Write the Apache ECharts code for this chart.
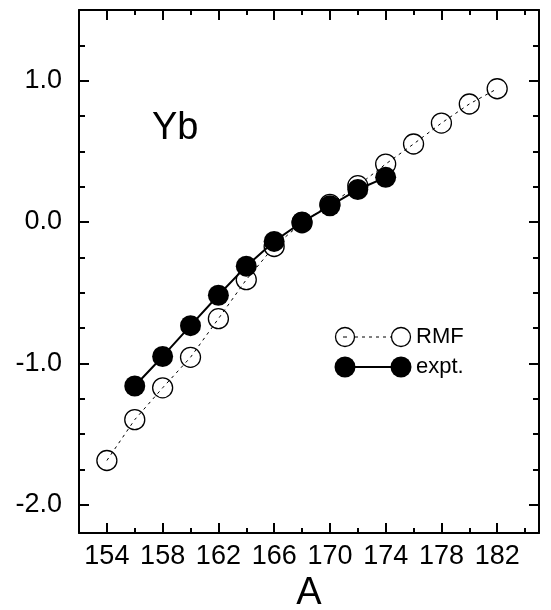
<!DOCTYPE html>
<html>
<head>
<meta charset="utf-8">
<script src="https://cdn.jsdelivr.net/npm/echarts@6/dist/echarts.min.js"></script>
<style>
  html, body { margin: 0; padding: 0; background: #fff; }
  #chart { width: 551px; height: 610px; }
</style>
</head>
<body>
<div id="chart"></div>
<script>
// Mass numbers and values for the two Yb chains
const rmfMass = [154, 156, 158, 160, 162, 164, 166, 168, 170, 172, 174, 176, 178, 180, 182];
const rmfValues = [-1.687, -1.398, -1.173, -0.957, -0.684, -0.408, -0.173, -0.005, 0.125, 0.257, 0.410, 0.552, 0.700, 0.835, 0.943];
const exptMass = [156, 158, 160, 162, 164, 166, 168, 170, 172, 174];
const exptValues = [-1.160, -0.951, -0.733, -0.518, -0.312, -0.137, 0.0, 0.115, 0.230, 0.316];

// Axis ticks and labels
const xLabelTicks = [154, 158, 162, 166, 170, 174, 178, 182];
const xMinorTicks = [156, 160, 164, 168, 172, 176, 180, 184];
const yLabelTicks = [-2, -1, 0, 1];
const yMinorTicks = [-1.75, -1.5, -1.25, -0.75, -0.5, -0.25, 0.25, 0.5, 0.75, 1.25];

const FONT = 'Liberation Sans, Arial, sans-serif';
const X_MIN = 152, X_MAX = 185, Y_MIN = -2.2, Y_MAX = 1.5;
const PLOT = { left: 79, top: 10, right: 12, bottom: 77, containLabel: false, outerBoundsMode: 'none' };

function toPairs(xs, ys) { return xs.map((x, i) => [x, ys[i]]); }

// Grid 0 holds the frame, the labels and the data; grids 1 and 2 share its box
// and only draw the long and the short inward ticks.
function frameX(position, withLabels) {
  return {
    type: 'value', gridIndex: 0, position: position, min: X_MIN, max: X_MAX,
    axisLine: { show: true, onZero: false, lineStyle: { color: '#000', width: 2 } },
    axisTick: { show: false },
    axisLabel: withLabels ? {
      show: true, customValues: xLabelTicks, margin: 10,
      color: '#000', fontSize: 27, fontFamily: FONT
    } : { show: false },
    splitLine: { show: false },
    name: withLabels ? 'A' : '',
    nameLocation: 'middle', nameGap: 36,
    nameTextStyle: { color: '#000', fontSize: 38, fontFamily: FONT }
  };
}

function frameY(position, withLabels) {
  return {
    type: 'value', gridIndex: 0, position: position, min: Y_MIN, max: Y_MAX,
    axisLine: { show: true, onZero: false, lineStyle: { color: '#000', width: 2 } },
    axisTick: { show: false },
    axisLabel: withLabels ? {
      show: true, customValues: yLabelTicks, margin: 17,
      color: '#000', fontSize: 27, fontFamily: FONT,
      formatter: v => v.toFixed(1)
    } : { show: false },
    splitLine: { show: false }
  };
}

function tickX(gridIndex, position, ticks, len) {
  return {
    type: 'value', gridIndex: gridIndex, position: position, min: X_MIN, max: X_MAX,
    axisLine: { show: false, onZero: false },
    axisTick: { show: true, inside: true, length: len, customValues: ticks,
                lineStyle: { color: '#000', width: 2 } },
    axisLabel: { show: false },
    splitLine: { show: false }
  };
}

function tickY(gridIndex, position, ticks, len) {
  return {
    type: 'value', gridIndex: gridIndex, position: position, min: Y_MIN, max: Y_MAX,
    axisLine: { show: false, onZero: false },
    axisTick: { show: true, inside: true, length: len, customValues: ticks,
                lineStyle: { color: '#000', width: 2 } },
    axisLabel: { show: false },
    splitLine: { show: false }
  };
}

const chart = echarts.init(document.getElementById('chart'), null, { renderer: 'canvas' });

// Legend drawn as a small key: two markers joined by the series line
const legendX1 = 345, legendX2 = 401, legendTextX = 416;
const rmfRowY = 337, exptRowY = 367;

chart.setOption({
  animation: false,
  backgroundColor: '#fff',
  grid: [Object.assign({}, PLOT), Object.assign({}, PLOT), Object.assign({}, PLOT)],
  xAxis: [
    frameX('bottom', true),
    frameX('top', false),
    tickX(1, 'bottom', xLabelTicks, 10),
    tickX(1, 'top', xLabelTicks, 10),
    tickX(2, 'bottom', xMinorTicks, 5),
    tickX(2, 'top', xMinorTicks, 5)
  ],
  yAxis: [
    frameY('left', true),
    frameY('right', false),
    tickY(1, 'left', yLabelTicks, 10),
    tickY(1, 'right', yLabelTicks, 10),
    tickY(2, 'left', yMinorTicks, 6),
    tickY(2, 'right', yMinorTicks, 6)
  ],
  series: [
    {
      name: 'RMF', type: 'line', xAxisIndex: 0, yAxisIndex: 0,
      data: toPairs(rmfMass, rmfValues),
      symbol: 'circle', symbolSize: 20,
      itemStyle: { color: 'rgba(0,0,0,0)', borderColor: '#000', borderWidth: 1.3 },
      lineStyle: { color: '#000', width: 1, type: [3, 4] },
      emphasis: { disabled: true }, z: 2
    },
    {
      name: 'expt.', type: 'line', xAxisIndex: 0, yAxisIndex: 0,
      data: toPairs(exptMass, exptValues),
      symbol: 'circle', symbolSize: 21,
      itemStyle: { color: '#000', borderColor: '#000', borderWidth: 0 },
      lineStyle: { color: '#000', width: 2 },
      emphasis: { disabled: true }, z: 3
    }
  ],
  graphic: [
    { type: 'text', left: 152, top: 110,
      style: { text: 'Yb', fill: '#000', font: '38px ' + FONT } },
    // RMF key
    { type: 'line', shape: { x1: legendX1 + 10, y1: rmfRowY, x2: legendX2 - 10, y2: rmfRowY },
      style: { stroke: '#000', lineWidth: 1, lineDash: [3, 4] } },
    { type: 'line', shape: { x1: legendX1 - 2, y1: rmfRowY, x2: legendX1 + 2, y2: rmfRowY },
      style: { stroke: '#000', lineWidth: 1 } },
    { type: 'circle', shape: { cx: legendX1, cy: rmfRowY, r: 9.5 },
      style: { fill: 'none', stroke: '#000', lineWidth: 1.3 } },
    { type: 'circle', shape: { cx: legendX2, cy: rmfRowY, r: 9.5 },
      style: { fill: 'none', stroke: '#000', lineWidth: 1.3 } },
    { type: 'text', x: legendTextX, y: rmfRowY,
      style: { text: 'RMF', fill: '#000', font: '22px ' + FONT, verticalAlign: 'middle', align: 'left' } },
    // expt. key
    { type: 'line', shape: { x1: legendX1, y1: exptRowY, x2: legendX2, y2: exptRowY },
      style: { stroke: '#000', lineWidth: 2 } },
    { type: 'circle', shape: { cx: legendX1, cy: exptRowY, r: 10.5 },
      style: { fill: '#000' } },
    { type: 'circle', shape: { cx: legendX2, cy: exptRowY, r: 10.5 },
      style: { fill: '#000' } },
    { type: 'text', x: legendTextX, y: exptRowY,
      style: { text: 'expt.', fill: '#000', font: '22px ' + FONT, verticalAlign: 'middle', align: 'left' } }
  ]
});
</script>
</body>
</html>
